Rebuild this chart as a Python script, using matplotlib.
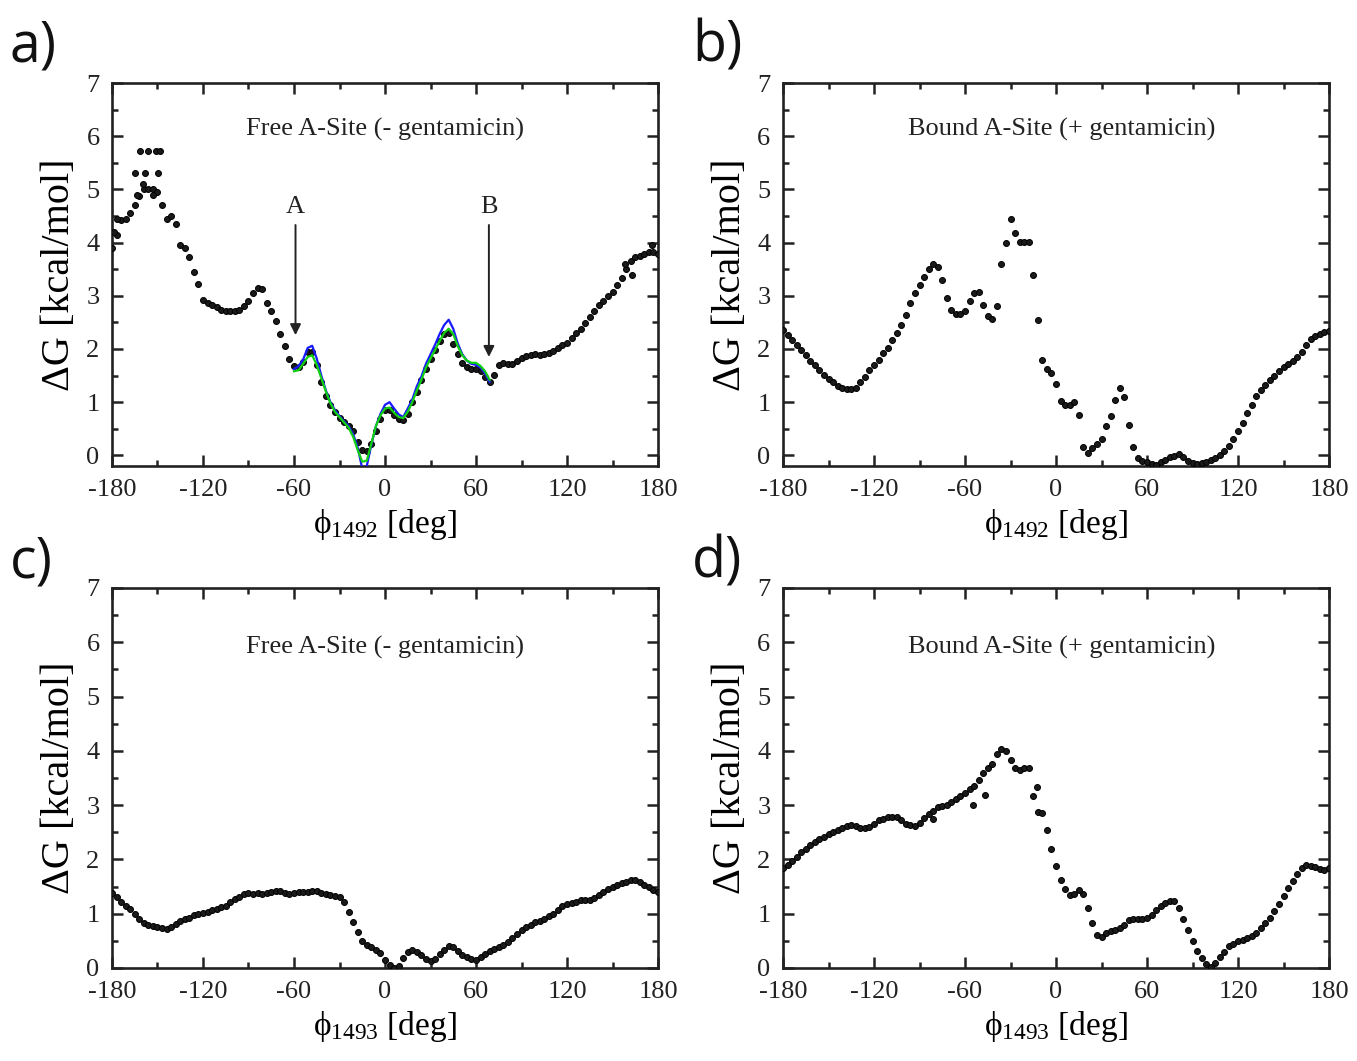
import numpy as np
import matplotlib
matplotlib.use("Agg")
import matplotlib.pyplot as plt
from matplotlib.ticker import MultipleLocator

plt.rcParams['font.family'] = ['Liberation Serif', 'STIXGeneral', 'DejaVu Serif']
plt.rcParams['mathtext.fontset'] = 'custom'
plt.rcParams['mathtext.rm'] = 'Liberation Serif'
plt.rcParams['mathtext.it'] = 'Liberation Serif:italic'
plt.rcParams['mathtext.bf'] = 'Liberation Serif:bold'
plt.rcParams['axes.unicode_minus'] = False

# ---------------- data (bins every 3 degrees, -180..180) ----------------
phi_bins = np.arange(-180, 181, 3)

dG_a_1492_free = [
    3.9, 4.15, 4.42, 4.45, 4.55, 4.7, 4.88, 5.0, 5.0, 5.0,
    4.95, 4.7, 4.45, 4.5, 4.35, 3.95, 3.9, 3.72, 3.45, 3.22,
    2.92, 2.86, 2.82, 2.78, 2.74, 2.72, 2.72, 2.72, 2.74, 2.8,
    2.9, 3.05, 3.15, 3.12, 2.86, 2.72, 2.52, 2.28, 2.05, 1.82,
    1.68, 1.66, 1.75, 1.95, 1.95, 1.7, 1.38, 1.12, 0.95, 0.82,
    0.7, 0.62, 0.56, 0.45, 0.25, 0.1, 0.08, 0.22, 0.45, 0.68,
    0.85, 0.86, 0.76, 0.68, 0.67, 0.78, 1.0, 1.2, 1.42, 1.62,
    1.82, 1.98, 2.15, 2.28, 2.3, 2.1, 1.9, 1.74, 1.66, 1.63,
    1.63, 1.58, 1.48, 1.38, 1.52, 1.7, 1.73, 1.72, 1.72, 1.78,
    1.83, 1.87, 1.88, 1.9, 1.88, 1.9, 1.93, 1.97, 2.02, 2.08,
    2.12, 2.2, 2.3, 2.38, 2.48, 2.6, 2.72, 2.82, 2.9, 3.0,
    3.07, 3.2, 3.33, 3.5, 3.66, 3.72, 3.75, 3.78, 3.82, 3.82,
    3.78]

# scattered extra samples in panel a
extra_a_phi = [-179, -176.9, -161.5, -156, -151, -148.5, -165, -158, -149.5,
               -159.5, -163.5, -153, 158, 163, 176]
extra_a_dG = [4.2, 4.44, 5.72, 5.72, 5.72, 5.72, 5.3, 5.3, 5.3,
              5.1, 4.9, 4.9, 3.6, 3.4, 3.95]

# fitted curves (panel a), -60..69 every 3 degrees
phi_fit = np.arange(-60, 70, 3)
fit_blue = [1.62, 1.68, 1.8, 2.02, 2.06, 1.82, 1.5, 1.22, 1.0, 0.85,
            0.74, 0.64, 0.55, 0.4, 0.15, -0.25, -0.2, 0.2, 0.55, 0.78,
            0.95, 1.0, 0.88, 0.77, 0.72, 0.88, 1.05, 1.3, 1.48, 1.72,
            1.9, 2.08, 2.28, 2.45, 2.55, 2.38, 2.1, 1.9, 1.78, 1.72,
            1.7, 1.65, 1.54, 1.38]
fit_green = [1.58, 1.6, 1.72, 1.85, 1.88, 1.7, 1.45, 1.2, 0.98, 0.82,
             0.72, 0.62, 0.52, 0.35, 0.1, -0.12, -0.1, 0.22, 0.55, 0.75,
             0.88, 0.9, 0.8, 0.72, 0.7, 0.82, 1.0, 1.22, 1.42, 1.65,
             1.82, 1.98, 2.15, 2.3, 2.38, 2.28, 2.05, 1.88, 1.78, 1.74,
             1.74, 1.68, 1.58, 1.42]

dG_b_1492_bound = [
    2.35, 2.26, 2.17, 2.08, 1.98, 1.88, 1.78, 1.69, 1.6, 1.52,
    1.44, 1.37, 1.31, 1.27, 1.25, 1.25, 1.27, 1.37, 1.48, 1.6,
    1.7, 1.8, 1.92, 2.02, 2.16, 2.3, 2.46, 2.64, 2.86, 3.06,
    3.2, 3.36, 3.5, 3.6, 3.54, 3.3, 2.96, 2.74, 2.66, 2.66,
    2.72, 2.9, 3.06, 3.08, 2.82, 2.62, 2.56, 2.8, 3.6, 4.0,
    4.44, 4.18, 4.02, 4.02, 4.02, 3.4, 2.55, 1.8, 1.62, 1.55,
    1.35, 1.03, 0.94, 0.94, 1.0, 0.76, 0.15, 0.04, 0.13, 0.22,
    0.31, 0.55, 0.74, 1.04, 1.27, 1.1, 0.58, 0.16, -0.05, -0.1,
    -0.13, -0.16, -0.18, -0.13, -0.08, -0.04, -0.01, 0.03, -0.03, -0.1,
    -0.15, -0.16, -0.14, -0.12, -0.09, -0.05, 0.01, 0.08, 0.17, 0.3,
    0.46, 0.6, 0.8, 0.94, 1.11, 1.22, 1.32, 1.41, 1.49, 1.58,
    1.66, 1.72, 1.78, 1.85, 1.94, 2.08, 2.18, 2.25, 2.29, 2.32,
    2.34]

dG_c_1493_free = [
    1.38, 1.3, 1.22, 1.15, 1.09, 1.0, 0.9, 0.82, 0.8, 0.78,
    0.76, 0.73, 0.71, 0.75, 0.81, 0.86, 0.9, 0.93, 0.97, 0.99,
    1.01, 1.04, 1.07, 1.09, 1.12, 1.15, 1.21, 1.27, 1.31, 1.36,
    1.38, 1.37, 1.38, 1.36, 1.39, 1.4, 1.41, 1.42, 1.38, 1.37,
    1.39, 1.4, 1.4, 1.4, 1.42, 1.41, 1.39, 1.37, 1.35, 1.33,
    1.3, 1.22, 1.03, 0.85, 0.66, 0.5, 0.42, 0.38, 0.34, 0.27,
    0.15, 0.06, 0.0, 0.03, 0.18, 0.3, 0.33, 0.3, 0.24, 0.17,
    0.12, 0.16, 0.26, 0.34, 0.4, 0.39, 0.32, 0.24, 0.2, 0.17,
    0.15, 0.2, 0.26, 0.31, 0.35, 0.38, 0.42, 0.47, 0.55, 0.62,
    0.7, 0.76, 0.8, 0.84, 0.87, 0.9, 0.95, 1.0, 1.07, 1.14,
    1.17, 1.19, 1.22, 1.26, 1.26, 1.26, 1.29, 1.34, 1.4, 1.45,
    1.5, 1.53, 1.56, 1.59, 1.62, 1.62, 1.59, 1.53, 1.49, 1.44,
    1.4]

dG_d_1493_bound = [
    1.84, 1.9, 1.97, 2.05, 2.13, 2.2, 2.27, 2.33, 2.38, 2.42,
    2.47, 2.51, 2.55, 2.58, 2.62, 2.63, 2.61, 2.58, 2.57, 2.6,
    2.66, 2.72, 2.75, 2.78, 2.79, 2.79, 2.73, 2.66, 2.63, 2.62,
    2.67, 2.77, 2.84, 2.9, 2.97, 2.98, 3.0, 3.05, 3.11, 3.17,
    3.23, 3.29, 3.36, 3.47, 3.6, 3.69, 3.75, 3.95, 4.04, 4.0,
    3.84, 3.68, 3.65, 3.69, 3.68, 3.17, 2.88, 2.85, 2.55, 2.2,
    1.88, 1.62, 1.45, 1.35, 1.37, 1.44, 1.36, 1.1, 0.82, 0.6,
    0.58, 0.64, 0.68, 0.7, 0.74, 0.8, 0.88, 0.91, 0.91, 0.9,
    0.92, 0.98, 1.07, 1.14, 1.2, 1.24, 1.23, 1.1, 0.9, 0.7,
    0.49, 0.32, 0.18, 0.07, 0.02, 0.09, 0.2, 0.3, 0.4, 0.45,
    0.49, 0.52, 0.55, 0.59, 0.65, 0.73, 0.82, 0.92, 1.05, 1.18,
    1.33, 1.48, 1.61, 1.73, 1.84, 1.9, 1.88, 1.86, 1.83, 1.81,
    1.84]

extra_d_phi = [-81, -55, -47, -12.7]
extra_d_dG = [2.74, 3.0, 3.19, 3.33]

titles = ["Free A-Site (- gentamicin)", "Bound A-Site (+ gentamicin)",
          "Free A-Site (- gentamicin)", "Bound A-Site (+ gentamicin)"]
xlabels = ["\u03d5$_{1492}$ [deg]", "\u03d5$_{1492}$ [deg]",
           "\u03d5$_{1493}$ [deg]", "\u03d5$_{1493}$ [deg]"]
panel_letters = ["a)", "b)", "c)", "d)"]
xtick_vals = [-180, -120, -60, 0, 60, 120, 180]

# ---------------- figure ----------------
fig = plt.figure(figsize=(13.57, 10.61), dpi=100)
W, H = 1357, 1061
boxes = [(112, 83, 546, 383), (783, 83, 546, 383),
         (112, 588, 546, 380), (783, 588, 546, 380)]
ylims = [(-0.2, 7.0), (-0.2, 7.0), (0.0, 7.0), (0.0, 7.0)]
series = [dG_a_1492_free, dG_b_1492_bound, dG_c_1493_free, dG_d_1493_bound]
MS = 4.3

axes = []
for i, (x0, y0, w, h) in enumerate(boxes):
    ax = fig.add_axes([x0 / W, 1 - (y0 + h) / H, w / W, h / H])
    axes.append(ax)
    ax.plot(phi_bins, series[i], 'o', color='#1a1a1a', ms=MS, mew=0.7,
            mec='black', zorder=3)
    ax.set_xlim(-180, 180)
    ax.set_ylim(*ylims[i])
    ax.set_xticks(xtick_vals)
    ax.set_xticklabels([str(v) for v in xtick_vals])
    ax.xaxis.set_minor_locator(MultipleLocator(30))
    ax.yaxis.set_major_locator(MultipleLocator(1))
    ax.yaxis.set_minor_locator(MultipleLocator(0.5))
    ax.tick_params(which='both', direction='in', top=True, right=True,
                   width=1.8, labelsize=19, colors='#222222')
    ax.tick_params(which='major', length=8, pad=9)
    ax.tick_params(which='minor', length=4.5)
    for s in ax.spines.values():
        s.set_linewidth(1.9)
        s.set_color('#222222')
    ax.set_xlabel(xlabels[i], fontsize=24, labelpad=5)
    ax.set_ylabel("\u0394G [kcal/mol]", fontsize=29, labelpad=6)
    ax.text(0.0 if i % 2 == 0 else 4.0, 6.12 if i < 2 else 5.9, titles[i],
            ha='center', va='center', fontsize=19, color='#222222')

# panel a extras, fitted curves and arrows
axA = axes[0]
axA.plot(extra_a_phi, extra_a_dG, 'o', color='#1a1a1a', ms=MS, mew=0.7,
         mec='black', zorder=3)
axA.plot(phi_fit, fit_blue, '-', color='#1a1aff', lw=1.6, zorder=4)
axA.plot(phi_fit, fit_green, '-', color='#10d010', lw=1.6, zorder=5)
for lab, xa, ytip in [("A", -59, 2.26), ("B", 68.5, 1.85)]:
    axA.annotate("", xy=(xa, ytip), xytext=(xa, 4.33),
                 arrowprops=dict(arrowstyle='-|>', color='#222222', lw=1.4,
                                 mutation_scale=16, shrinkA=0, shrinkB=0))
    axA.text(xa, 4.67, lab, ha='center', va='center', fontsize=19,
             color='#222222')

axes[3].plot(extra_d_phi, extra_d_dG, 'o', color='#1a1a1a', ms=MS, mew=0.7,
             mec='black', zorder=3)

# panel letters
for lab, (fx, fy) in zip(panel_letters,
                         [(10, 62), (692, 62), (10, 578), (692, 578)]):
    fig.text(fx / W, 1 - fy / H, lab, fontsize=40, family='Open Sans',
             ha='left', va='baseline', color='#111111')

fig.savefig("out.png", dpi=100)
